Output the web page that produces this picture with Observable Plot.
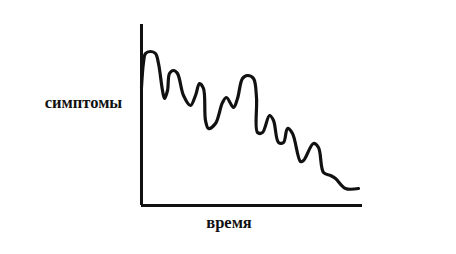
<!DOCTYPE html>
<html>
<head>
<meta charset="utf-8">
<script src="https://cdn.jsdelivr.net/npm/d3@7"></script>
<script src="https://cdn.jsdelivr.net/npm/@observablehq/plot@0.6"></script>
<style>
  html, body { margin: 0; padding: 0; background: #fff; }
</style>
</head>
<body>
<div id="chart"></div>
<script>
// time (arbitrary units) and symptom level
const time = [0, 2, 4, 9, 14, 17, 21, 23, 26, 28, 32, 36, 42, 49, 54, 58, 62, 64, 67, 74, 81, 85, 92, 96, 101, 106, 112, 115, 116, 121, 128, 132, 137, 142, 146, 151, 159, 162, 172, 177, 182, 189, 194, 204, 217];
const symptoms = [118, 143, 152, 154, 152, 142, 115, 107, 115, 132, 135, 132, 110, 100, 110, 122, 117, 85, 77, 82, 103, 108, 98, 107, 127, 130, 127, 108, 73, 73, 90, 85, 63, 63, 77, 72, 44, 45, 62, 58, 33, 30, 27, 17, 17];
const xLabel = "время";
const yLabel = "симптомы";

const data = time.map((t, i) => ({time: t, symptoms: symptoms[i]}));
const ink = "#111";
const font = "Liberation Serif";

const chart = Plot.plot({
  width: 456,
  height: 254,
  marginLeft: 141,
  marginRight: 94,
  marginTop: 24,
  marginBottom: 49,
  x: {domain: [0, 221], axis: null},
  y: {domain: [0, 181], axis: null},
  marks: [
    Plot.line(data, {x: "time", y: "symptoms", curve: "catmull-rom", stroke: ink, strokeWidth: 3.2, strokeLinejoin: "round"}),
    Plot.ruleX([0], {stroke: ink, strokeWidth: 3}),
    Plot.ruleY([0], {stroke: ink, strokeWidth: 3}),
    Plot.text([yLabel], {text: d => d, frameAnchor: "left", dx: -58, dy: -12, textAnchor: "middle", fontFamily: font, fontWeight: "bold", fontSize: 16.5, fill: ink}),
    Plot.text([xLabel], {text: d => d, frameAnchor: "bottom", dx: -23, dy: 22, textAnchor: "middle", fontFamily: font, fontWeight: "bold", fontSize: 16.5, fill: ink})
  ]
});
document.getElementById("chart").appendChild(chart);
</script>
</body>
</html>
